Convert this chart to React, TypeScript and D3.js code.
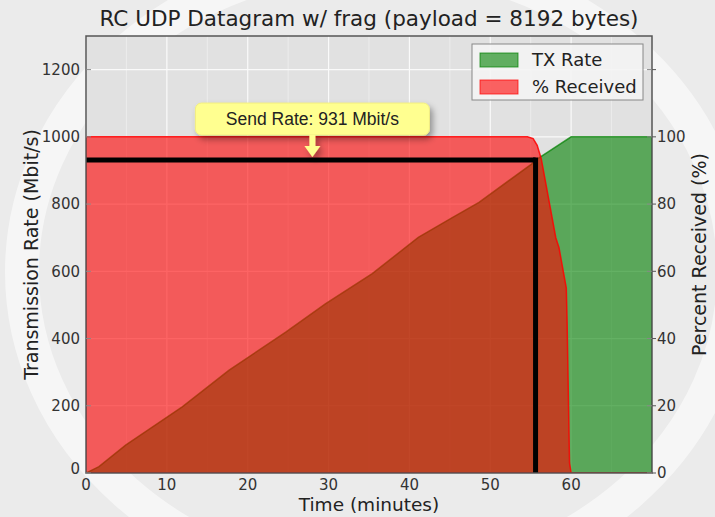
import React from "react";
import * as d3 from "d3";

// TX rate (Mbit/s) over time (minutes)
const txTime = [0, 1.6, 4.9, 11.9, 17.7, 24.7, 29.6, 35.4, 41.1, 45.3, 48.6, 55.1, 55.6, 60, 70];
const txRate = [0, 19, 83, 197, 306, 419, 503, 593, 701, 760, 805, 919, 931, 1000, 1000];

// percent received over time
const recvTime = [0, 54.6, 55.3, 55.8, 56.3, 58.1, 58.5, 59.4, 59.5, 59.8, 60, 70];
const recvPct = [100, 100, 99.5, 97.5, 93.5, 70, 67, 55, 45, 3, 0, 0];

const sendRate = 931;
const sendEnd = 55.6;
const noteAt = 28;

const xTicks = [0, 10, 20, 30, 40, 50, 60];
const xMinor = [5, 15, 25, 35, 45, 55, 65];
const rateTicks = [0, 200, 400, 600, 800, 1000, 1200];
const pctTicks = [0, 20, 40, 60, 80, 100, 120];

const W = 715;
const H = 517;
const left = 86;
const right = 652;
const top = 36;
const bottom = 473;

const dejavu = "'DejaVu Sans', sans-serif";

export default function App() {
  const x = d3.scaleLinear().domain([0, 70]).range([left, right]);
  const yRate = d3.scaleLinear().domain([0, 1300]).range([bottom, top]);
  const yPct = d3.scaleLinear().domain([0, 130]).range([bottom, top]);

  const txArea = d3
    .area<number>()
    .x((_, i) => x(txTime[i]))
    .y0(yRate(0))
    .y1((d) => yRate(d));
  const recvArea = d3
    .area<number>()
    .x((_, i) => x(recvTime[i]))
    .y0(yPct(0))
    .y1((d) => yPct(d));

  const ax = x(noteAt);
  const tipY = yRate(sendRate) - 3;
  const boxW = 234;
  const boxH = 32;
  const boxY = tipY - 54;

  return (
    <svg
      width={W}
      height={H}
      style={{ position: "absolute", left: 0, top: 0, display: "block" }}
    >
      <defs>
        <filter id="shadow" x="-20%" y="-40%" width="140%" height="200%">
          <feDropShadow dx="3" dy="4" stdDeviation="3" floodColor="#000" floodOpacity="0.35" />
        </filter>
        <clipPath id="plot">
          <rect x={left} y={top} width={right - left} height={bottom - top} />
        </clipPath>
      </defs>

      <rect width={W} height={H} fill="#ebebeb" />
      {/* faint watermark ring behind the figure */}
      <ellipse cx={378} cy={272} rx={356} ry={312} fill="none" stroke="#fff" strokeWidth={34} opacity={0.55} />

      <text x={369} y={26} textAnchor="middle" fontFamily={dejavu} fontSize={21.5} fill="#222">
        RC UDP Datagram w/ frag (payload = 8192 bytes)
      </text>

      <rect x={left} y={top} width={right - left} height={bottom - top} fill="#e1e1e1" />

      {/* grid */}
      {xMinor.map((t) => (
        <line key={"m" + t} x1={x(t)} x2={x(t)} y1={top} y2={bottom} stroke="#ececec" strokeWidth={1} />
      ))}
      {xTicks.map((t) => (
        <line key={"g" + t} x1={x(t)} x2={x(t)} y1={top} y2={bottom} stroke="#fafafa" strokeWidth={1.2} />
      ))}
      {rateTicks.map((v) => (
        <line key={"h" + v} x1={left} x2={right} y1={yRate(v)} y2={yRate(v)} stroke="#fafafa" strokeWidth={1.2} />
      ))}

      <g clipPath="url(#plot)">
        <path
          d={txArea(txRate) ?? ""}
          fill="#008000"
          fillOpacity={0.6}
          stroke="#008000"
          strokeOpacity={0.7}
          strokeWidth={1.5}
        />
        <path
          d={recvArea(recvPct) ?? ""}
          fill="#ff0000"
          fillOpacity={0.6}
          stroke="#ff0000"
          strokeOpacity={0.85}
          strokeWidth={1.5}
        />
        <line x1={x(0)} x2={x(sendEnd)} y1={yRate(sendRate)} y2={yRate(sendRate)} stroke="#000" strokeWidth={5} />
        <line x1={x(sendEnd)} x2={x(sendEnd)} y1={yRate(sendRate) - 2.5} y2={yRate(0)} stroke="#000" strokeWidth={5} />
      </g>

      {/* frame */}
      <rect x={left} y={top} width={right - left} height={bottom - top} fill="none" stroke="#555" strokeWidth={1.5} />

      {/* left ticks */}
      {rateTicks.map((v) => (
        <g key={"l" + v}>
          <line x1={left} x2={left + 5} y1={yRate(v)} y2={yRate(v)} stroke="#888" />
          <text
            x={left - 6}
            y={v === 0 ? yRate(v) - 4 : yRate(v)}
            dy="0.35em"
            textAnchor="end"
            fontFamily={dejavu}
            fontSize={15}
            fill="#333"
          >
            {v}
          </text>
        </g>
      ))}
      {/* right ticks */}
      {pctTicks.map((v) => (
        <g key={"r" + v}>
          <line x1={right} x2={right + 4} y1={yPct(v)} y2={yPct(v)} stroke="#555" />
          <line x1={right - 5} x2={right} y1={yPct(v)} y2={yPct(v)} stroke="#888" />
          {v <= 100 && (
            <text x={right + 5} y={yPct(v)} dy="0.35em" fontFamily={dejavu} fontSize={15} fill="#333">
              {v}
            </text>
          )}
        </g>
      ))}
      {/* bottom ticks */}
      {xTicks.map((t) => (
        <text key={"b" + t} x={x(t)} y={489.5} textAnchor="middle" fontFamily={dejavu} fontSize={15} fill="#333">
          {t}
        </text>
      ))}

      <text x={369} y={511} textAnchor="middle" fontFamily={dejavu} fontSize={18.5} fill="#222">
        Time (minutes)
      </text>
      <text
        transform={`translate(38,${(top + bottom) / 2}) rotate(-90)`}
        textAnchor="middle"
        fontFamily={dejavu}
        fontSize={19}
        fill="#222"
      >
        Transmission Rate (Mbit/s)
      </text>
      <text
        transform={`translate(706,${(top + bottom) / 2}) rotate(-90)`}
        textAnchor="middle"
        fontFamily={dejavu}
        fontSize={19}
        fill="#222"
      >
        Percent Received (%)
      </text>

      {/* legend */}
      <rect x={472} y={44} width={171} height={56} fill="#f4f4f4" fillOpacity={0.9} stroke="#888" strokeWidth={1} />
      <rect x={480} y={53} width={38} height={14} fill="#008000" fillOpacity={0.6} stroke="#008000" strokeOpacity={0.7} />
      <text x={532} y={66} fontFamily={dejavu} fontSize={18} fill="#222">
        TX Rate
      </text>
      <rect x={480} y={80} width={38} height={14} fill="#ff0000" fillOpacity={0.6} stroke="#ff0000" strokeOpacity={0.7} />
      <text x={532} y={93} fontFamily={dejavu} fontSize={18} fill="#222">
        % Received
      </text>

      {/* annotation */}
      <g filter="url(#shadow)">
        <rect x={ax - boxW / 2} y={boxY} width={boxW} height={boxH} rx={6} fill="#ffff90" stroke="#f2ee80" />
        <path
          d={`M${ax - 3},${boxY + boxH} L${ax - 3},${tipY - 11} L${ax - 8},${tipY - 11} L${ax},${tipY} L${ax + 8},${tipY - 11} L${ax + 3},${tipY - 11} L${ax + 3},${boxY + boxH} Z`}
          fill="#ffff90"
        />
      </g>
      <text
        x={ax}
        y={boxY + boxH / 2}
        dy="0.36em"
        textAnchor="middle"
        fontFamily="'Liberation Sans', Arial, sans-serif"
        fontSize={17.5}
        fill="#222"
      >
        Send Rate: 931 Mbit/s
      </text>
    </svg>
  );
}
